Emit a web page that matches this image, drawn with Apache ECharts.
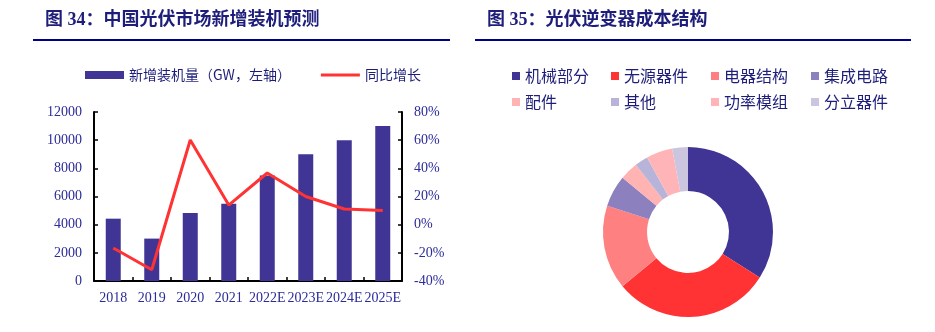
<!DOCTYPE html>
<html><head><meta charset="utf-8">
<script src="https://cdn.jsdelivr.net/npm/echarts@6/dist/echarts.min.js"></script>
<style>html,body{margin:0;padding:0;background:#fff}#c{width:935px;height:332px}</style>
</head><body><div id="c"></div>
<script>
const years = ['2018','2019','2020','2021','2022E','2023E','2024E','2025E'];
const installs = [4426, 3011, 4820, 5488, 7500, 9000, 10000, 11000];
const growth = [-16.6, -32.0, 60.1, 13.9, 36.7, 20.0, 11.1, 10.0];
const leftTicks = [0, 12000, 2000];
const rightTicks = [-40, 80, 20];
const costNames = ['机械部分','无源器件','电器结构','集成电路','配件','其他','功率模组','分立器件'];
const costValues = [34, 30, 16, 6, 3.5, 2.5, 5, 3];
const costColors = ['#403594','#FF3333','#FF8080','#8C80BE','#FFB3B3','#B8B3D9','#FFB5B8','#CBC5DF'];

const navy = '#1E1E7A';
const tickColor = '#2B2B9A';
const serif = "'Liberation Serif','Times New Roman',serif";
const cjk = "'Noto Sans CJK SC','Noto Sans',sans-serif";

const colLefts = [507, 606, 706, 806];
const pieLegends = colLefts.map((x, c) => ({
  left: x, top: 63, orient: 'vertical', itemWidth: 8, itemHeight: 8, itemGap: 10, icon: 'rect',
  textStyle: {fontFamily: cjk, fontSize: 16, color: navy},
  data: [costNames[c], costNames[c + 4]]
}));

const chart = echarts.init(document.getElementById('c'));
chart.setOption({
  animation: false,
  graphic: [
    {type:'text', left:45, top:11, style:{text:'图 34：中国光伏市场新增装机预测', fill:navy, font:"bold 18px 'Liberation Serif','Noto Sans CJK SC',serif"}},
    {type:'rect', shape:{x:33, y:39, width:417, height:2}, style:{fill:'#00008B'}},
    {type:'text', left:487, top:11, style:{text:'图 35：光伏逆变器成本结构', fill:navy, font:"bold 18px 'Liberation Serif','Noto Sans CJK SC',serif"}},
    {type:'rect', shape:{x:475, y:39, width:436, height:2}, style:{fill:'#00008B'}}
  ],
  legend: [
    {
      left: 80, top: 63, itemWidth: 39, itemHeight: 8, itemGap: 30,
      textStyle: {fontFamily: cjk, fontSize: 14, color: navy},
      data: [
        {name:'新增装机量（GW，左轴）', icon:'rect'},
        {name:'同比增长', icon:'path://M0,0L0.01,0M0,2.5L40,2.5L40,5.5L0,5.5ZM0,8L0.01,8'}
      ]
    }
  ].concat(pieLegends),
  grid: {left: 94, right: 533, top: 112, bottom: 51, containLabel: false},
  xAxis: {
    type: 'category', data: years,
    axisLine: {lineStyle: {color: '#000', width: 2}},
    axisTick: {show: true, inside: true, length: 4, lineStyle: {color:'#000', width: 1.5}},
    axisLabel: {interval: 0, fontFamily: serif, fontSize: 14, color: tickColor, margin: 10}
  },
  yAxis: [
    {
      type: 'value', min: leftTicks[0], max: leftTicks[1], interval: leftTicks[2],
      splitLine: {show: false},
      axisLine: {show: true, lineStyle: {color:'#000', width: 2}},
      axisTick: {show: true, inside: true, length: 4, lineStyle: {color:'#000', width: 1.5}},
      axisLabel: {fontFamily: serif, fontSize: 14, color: tickColor, margin: 12, formatter: v => String(v)}
    },
    {
      type: 'value', min: rightTicks[0], max: rightTicks[1], interval: rightTicks[2],
      position: 'right', splitLine: {show: false},
      axisLine: {show: true, lineStyle: {color:'#000', width: 2}},
      axisTick: {show: true, inside: true, length: 4, lineStyle: {color:'#000', width: 1.5}},
      axisLabel: {fontFamily: serif, fontSize: 14, color: tickColor, margin: 12, formatter: '{value}%'}
    }
  ],
  series: [
    {
      name: '新增装机量（GW，左轴）', type: 'bar', data: installs, barWidth: 15,
      itemStyle: {color: '#403594'}
    },
    {
      name: '同比增长', type: 'line', yAxisIndex: 1, data: growth,
      symbol: 'none', lineStyle: {color: '#FF3333', width: 3}, itemStyle: {color:'#FF3333'}
    },
    {
      name: '成本结构', type: 'pie', center: [688, 232], radius: [41, 85],
      startAngle: 90, clockwise: true, label: {show: false}, labelLine: {show: false},
      data: costNames.map((n, i) => ({name: n, value: costValues[i], itemStyle: {color: costColors[i]}}))
    }
  ]
});
</script>
</body></html>
